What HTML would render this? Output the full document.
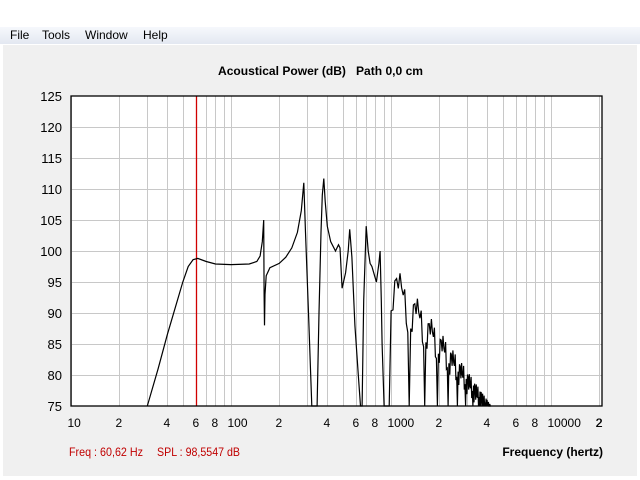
<!DOCTYPE html>
<html><head><meta charset="utf-8"><style>
body{margin:0;width:640px;height:480px;background:#fff;font-family:"Liberation Sans",sans-serif;overflow:hidden;position:relative}
#menu{position:absolute;left:0;top:27px;width:640px;height:17px;background:linear-gradient(#f6f8fc,#e3e8f1);font-size:12px;color:#000}
#menu span{position:absolute;top:1px}
#panel{position:absolute;left:3px;top:45px;width:634px;height:431px;background:#f0f0f0}
</style></head><body>
<div id="menu"><span style="left:10px">File</span><span style="left:42px">Tools</span><span style="left:85px">Window</span><span style="left:143px">Help</span></div>
<div id="panel"></div>
<svg id="s" width="640" height="480" style="position:absolute;left:0;top:0" font-family="Liberation Sans, sans-serif">
<text x="218" y="75" font-size="12" font-weight="bold" textLength="205" lengthAdjust="spacingAndGlyphs">Acoustical Power (dB)&#160;&#160;&#160;Path 0,0 cm</text>
<rect x="71" y="96" width="531" height="310" fill="#fff"/>
<g id="grid" stroke="#c8c8c8" stroke-width="1"></g>
<g id="lbl" font-size="12" fill="#000"></g>
<line x1="196.5" y1="96" x2="196.5" y2="406" stroke="#d00000" stroke-width="1.3"/>
<path id="c" fill="none" stroke="#000" stroke-width="1.2"/>
<rect x="71" y="96" width="531" height="310" fill="none" stroke="#000" stroke-width="1.3"/>
<text x="69" y="456" font-size="12" fill="#c00000" textLength="74" lengthAdjust="spacingAndGlyphs">Freq : 60,62 Hz</text>
<text x="157" y="456" font-size="12" fill="#c00000" textLength="83" lengthAdjust="spacingAndGlyphs">SPL : 98,5547 dB</text>
<text x="603" y="456" font-size="12" font-weight="bold" text-anchor="end">Frequency (hertz)</text>
</svg>
<script>
var X=f=>71+160*Math.log10(f/10), Y=d=>96+(125-d)*6.2;
var g=document.getElementById('grid'),l=document.getElementById('lbl'),h='',t='';
for(var d=75;d<=125;d+=5){var y=Y(d);if(d>75&&d<125)h+='<line x1="71" x2="602" y1="'+(y+.5)+'" y2="'+(y+.5)+'"/>';t+='<text x="62" y="'+(y+5)+'" text-anchor="end" font-size="13">'+d+'</text>';}
[10,100,1000,10000].forEach(function(dec){for(var m=1;m<10;m++){var f=dec*m;if(f>20000)break;var x=Math.round(X(f))+.5;if(x>71&&x<602)h+='<line y1="96" y2="406" x1="'+x+'" x2="'+x+'"/>';
if(m==1||m%2==0){var s=m==1?String(dec):String(m);t+='<text x="'+(x-4)+'" y="427">'+s+'</text>';}}});
t+='<text x="596" y="427">2</text>';
g.innerHTML=h;l.innerHTML=t;
var pts=[[30,75],[35,81],[40,86.5],[45,91],[50,95],[54,97.5],[58,98.6],[62,98.8],[70,98.3],[80,97.9],[100,97.8],[130,97.9],[145,98.3],[152,99.2],[157,101.5],[160,105],[161,93],[162,88],[163,93],[166,96],[175,97.3],[200,98],[220,99],[240,100.5],[260,103],[275,106.5],[285,111],[292,103],[305,90],[320,75],[345,75],[355,90],[365,103],[372,109],[380,111.7],[388,108],[400,104],[420,101.5],[450,100],[470,101],[480,100.5],[495,94],[520,96.5],[540,100],[552,103.5],[570,99],[595,88],[625,80],[645,75],[660,75],[675,92],[700,104],[720,100],[740,98],[760,97.5],[790,96],[810,95],[840,98],[855,100],[870,92],[880,85],[905,75]];
var p=[];pts.forEach(q=>p.push([X(q[0]),q[1]]));
var n0=325;
for(var n=3;n<50;n++){var a=n*n0,b=(n+1)*n0;if(a>4200)break;
var env=f=>97.5-11.3*Math.log2(f/1000);
for(var k=0;k<=12;k++){var f=a+(b-a)*k/12;var s=Math.sin(Math.PI*k/12);var v=75+(env(f)-75)*Math.pow(s,0.35)+1.8*Math.sin(k*2.3);if(k==0||k==12)v=70;p.push([X(f),Math.min(v,env(f)+1)]);}}
var dstr='';p.forEach((q,i)=>{var y=Math.min(Y(q[1]),406);dstr+=(i?'L':'M')+q[0].toFixed(1)+' '+y.toFixed(1);});
document.getElementById('c').setAttribute('d',dstr);
</script>
</body></html>
